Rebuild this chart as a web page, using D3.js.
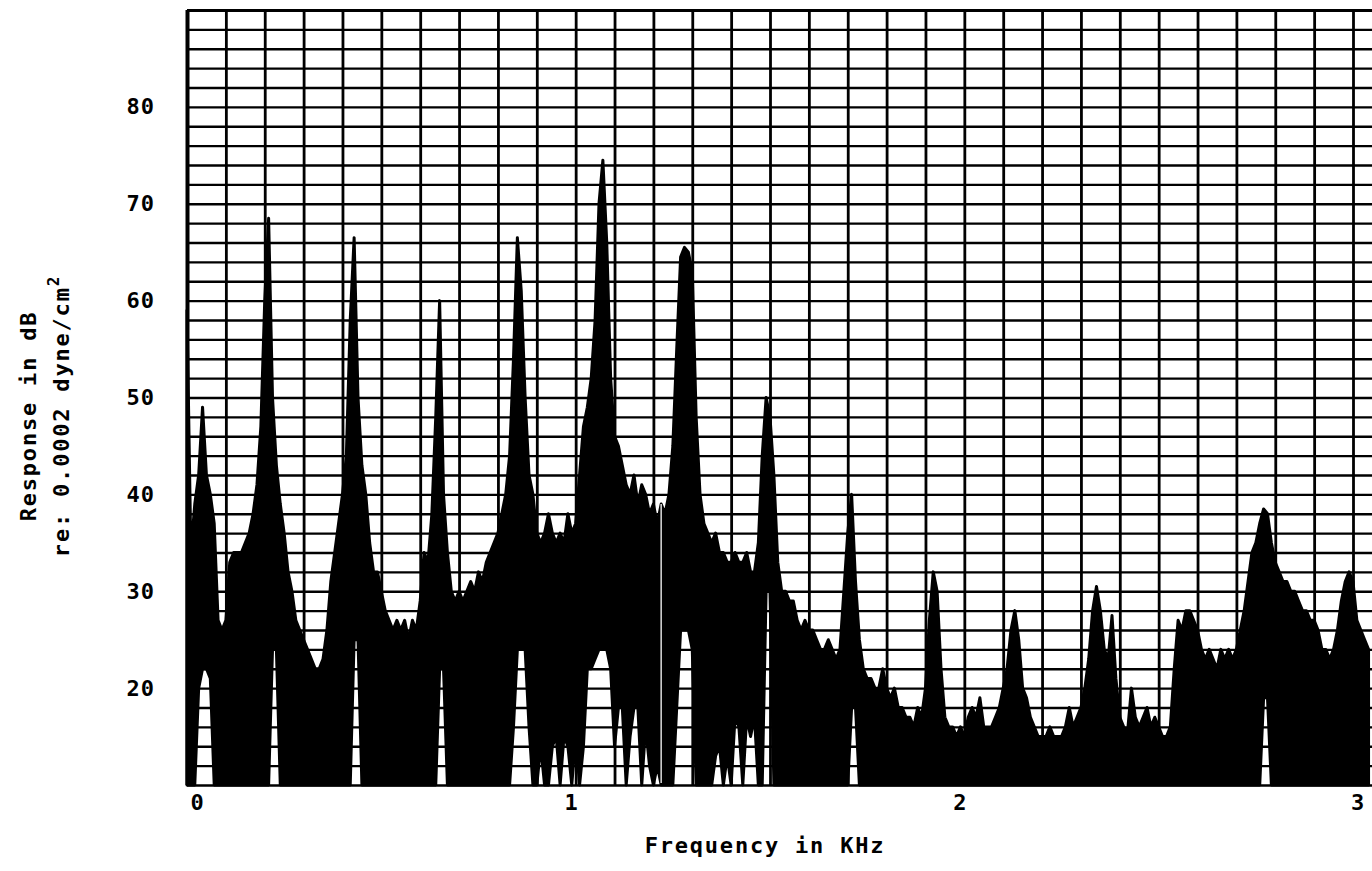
<!DOCTYPE html>
<html><head><meta charset="utf-8">
<script src="https://cdn.jsdelivr.net/npm/d3@7"></script>
<style>
body{margin:0;background:#fff}
svg{display:block}
text{font-family:"DejaVu Sans Mono","Liberation Mono",monospace;fill:#000}
</style>
</head><body>
<svg id="chart" width="1372" height="871"></svg>
<script>
// ---- data ----
const freqStep = 0.01;            // kHz between samples, first sample at 0 kHz
// upper envelope of the analyser trace (dB), one value per 0.01 kHz
const responseHigh = [
  59, 34, 39, 42, 49, 42, 40, 37, 27, 26,
  27, 33, 34, 34, 34, 35, 36, 38, 41, 47,
  60, 68.5, 50, 43, 39, 36, 32, 30, 27, 26,
  25, 24, 23, 22, 22, 23, 26, 31, 34, 37,
  40, 44, 58, 66.5, 50, 43, 40, 35, 32, 32,
  30, 28, 27, 26, 27, 26, 27, 25, 27, 26,
  29, 34, 33, 38, 48, 60, 40, 34, 30, 29,
  30, 29, 30, 31, 30, 32, 31, 33, 34, 35,
  36, 38, 40, 44, 54, 66.5, 61, 50, 42, 40,
  36, 35, 36, 38, 36, 35, 36, 35, 38, 36,
  37, 42, 47, 49, 52, 58, 70, 74.5, 66, 52,
  46, 45, 43, 41, 40, 42, 39, 41, 40, 38,
  39, 37, 39, 38, 40, 45, 55, 64.5, 65.5, 65,
  63, 48, 40, 37, 36, 35, 36, 34, 34, 33,
  33, 34, 33, 33, 34, 32, 32, 35, 44, 50,
  48, 42, 33, 30, 30, 29, 29, 27, 26, 27,
  26, 26, 25, 24, 24, 25, 24, 23, 24, 30,
  36, 40, 31, 25, 22, 21, 21, 20, 20, 22,
  20, 19, 20, 18, 18, 17, 17, 16, 18, 17,
  20, 27, 32, 30, 22, 17, 16, 16, 15, 16,
  15, 17, 18, 17, 19, 16, 16, 16, 17, 18,
  20, 22, 26, 28, 25, 20, 19, 17, 16, 15,
  15, 15, 16, 15, 15, 15, 16, 18, 16, 17,
  18, 20, 23, 28, 30.5, 28, 24, 23, 27.5, 21,
  17, 16, 15.5, 20, 17, 16, 17, 18, 16, 17,
  16, 15, 15, 16, 22, 27, 26, 28, 28, 27,
  26, 24, 23, 24, 23, 22, 24, 23, 24, 23,
  24, 26, 28, 31, 34, 35, 37, 38.5, 38, 35,
  33, 32, 31, 31, 30, 30, 29, 28, 28, 27,
  27, 26, 24, 24, 23, 24, 26, 29, 31, 32,
  31, 27, 26, 25, 24
];
// lower envelope of the trace (dB), same sampling
const responseLow = [
  10, 10, 10, 20, 22, 22, 21, 10, 10, 10,
  10, 10, 10, 10, 10, 10, 10, 10, 10, 10,
  10, 10, 24, 24, 10, 10, 10, 10, 10, 10,
  10, 10, 10, 10, 10, 10, 10, 10, 10, 10,
  10, 10, 10, 25, 25, 10, 10, 10, 10, 10,
  10, 10, 10, 10, 10, 10, 10, 10, 10, 10,
  10, 10, 10, 10, 10, 22, 22, 10, 10, 10,
  10, 10, 10, 10, 10, 10, 10, 10, 10, 10,
  10, 10, 10, 10, 16, 24, 24, 24, 16, 10,
  10, 14, 10, 10, 14, 15, 10, 15, 14, 10,
  15, 10, 14, 22, 22, 23, 24, 24, 24, 22,
  14, 18, 18, 10, 15, 18, 18, 10, 16, 12,
  10, 12, 10, 10, 10, 10, 18, 26, 26, 26,
  24, 10, 10, 10, 10, 10, 13, 14, 10, 13,
  10, 17, 16, 10, 17, 15, 17, 10, 10, 30,
  30, 10, 10, 10, 10, 10, 10, 10, 10, 10,
  10, 10, 10, 10, 10, 10, 10, 10, 10, 10,
  10, 18, 18, 10, 10, 10, 10, 10, 10, 10,
  10, 10, 10, 10, 10, 10, 10, 10, 10, 10,
  10, 10, 10, 10, 10, 10, 10, 10, 10, 10,
  10, 10, 10, 10, 10, 10, 10, 10, 10, 10,
  10, 10, 10, 10, 10, 10, 10, 10, 10, 10,
  10, 10, 10, 10, 10, 10, 10, 10, 10, 10,
  10, 10, 10, 10, 10, 10, 10, 10, 10, 10,
  10, 10, 10, 10, 10, 10, 10, 10, 10, 10,
  10, 10, 10, 10, 10, 10, 10, 10, 10, 10,
  10, 10, 10, 10, 10, 10, 10, 10, 10, 10,
  10, 10, 10, 10, 10, 10, 10, 19, 19, 10,
  10, 10, 10, 10, 10, 10, 10, 10, 10, 10,
  10, 10, 10, 10, 10, 10, 10, 10, 10, 10,
  10, 10, 10, 10, 10
];
// thin light marker line seen inside the trace
const markerFreq = 1.22;
const markerRange = [10, 39];
const yTickValues = [20, 30, 40, 50, 60, 70, 80];
const xTickValues = [0, 1, 2, 3];
const yGridStep = 2;     // dB
const xGridStep = 0.1;   // kHz
const yDomain = [10, 90];
const xDomain = [0, 3];
const yTitleLines = ["Response in dB", "re: 0.0002 dyne/cm"];
const yTitleSup = "2";
const xTitle = "Frequency in KHz";

// ---- layout ----
const W = 1372, H = 871;
const mLeft = 187, mTop = 10, mBottom = 785, xAt3 = 1353;
const svg = d3.select("#chart");

const x = d3.scaleLinear().domain(xDomain).range([mLeft, xAt3]);
const y = d3.scaleLinear().domain(yDomain).range([mBottom, mTop]);

const data = responseHigh.map((h, i) => ({f: i * freqStep, hi: h, lo: responseLow[i]}));

// grid (horizontal every 2 dB, vertical every 0.1 kHz)
const hVals = d3.range((yDomain[1] - yDomain[0]) / yGridStep + 1).map(i => yDomain[0] + i * yGridStep);
const vVals = d3.range(Math.round((xDomain[1] - xDomain[0]) / xGridStep) + 1).map(i => +(i * xGridStep).toFixed(2));

const gy = svg.append("g").attr("transform", `translate(${mLeft},0)`)
  .call(d3.axisLeft(y).tickValues(hVals).tickSize(-(W - mLeft)).tickFormat(""));
gy.select(".domain").remove();
gy.selectAll(".tick line").attr("stroke", "#000")
  .attr("stroke-width", d => d === yDomain[1] ? 3 : 2.4);

const gx = svg.append("g").attr("transform", `translate(0,${mBottom})`)
  .call(d3.axisBottom(x).tickValues(vVals).tickSize(-(mBottom - mTop)).tickFormat(""));
gx.select(".domain").remove();
gx.selectAll(".tick line").attr("stroke", "#000")
  .attr("stroke-width", d => d === 0 ? 4 : 2.8);

// trace
const area = d3.area()
  .x(d => x(d.f))
  .y0(d => y(d.lo))
  .y1(d => y(d.hi))
  .curve(d3.curveLinear);
svg.append("path").datum(data)
  .attr("d", area)
  .attr("fill", "#000")
  .attr("stroke", "#000")
  .attr("stroke-width", 3)
  .attr("stroke-linejoin", "round");

// marker line
svg.append("line")
  .attr("x1", x(markerFreq)).attr("x2", x(markerFreq))
  .attr("y1", y(markerRange[0]) - 2).attr("y2", y(markerRange[1]))
  .attr("stroke", "#cfcfcf").attr("stroke-width", 1.6);

// y tick labels
const yl = svg.append("g").attr("transform", `translate(${mLeft},0)`)
  .call(d3.axisLeft(y).tickValues(yTickValues).tickSize(0).tickPadding(32).tickFormat(d3.format("d")));
yl.select(".domain").remove();
yl.selectAll("text").attr("font-size", 22).attr("font-weight", "bold")
  .style("font-family", '"DejaVu Sans Mono",monospace').attr("letter-spacing", 1);

// x tick labels
const nX = xTickValues.length;
const xl = svg.append("g").attr("transform", `translate(0,${mBottom})`)
  .call(d3.axisBottom(x).tickValues(xTickValues).tickSize(0).tickPadding(9).tickFormat(d3.format("d")));
xl.select(".domain").remove();
xl.selectAll("text").attr("font-size", 22).attr("font-weight", "bold")
  .style("font-family", '"DejaVu Sans Mono",monospace')
  .attr("text-anchor", (d, i) => i === 0 ? "start" : "middle")
  .attr("dx", (d, i) => i === 0 ? 3 : (i === nX - 1 ? 4 : -5));

// y title
const yt = svg.append("g").attr("transform", "translate(36,416) rotate(-90)");
yt.append("text").attr("x", 0).attr("y", 0).attr("text-anchor", "middle")
  .attr("font-size", 22).attr("font-weight", "bold").attr("letter-spacing", 1.8)
  .text(yTitleLines[0]);
const t2 = yt.append("text").attr("x", 0).attr("y", 33).attr("text-anchor", "middle")
  .attr("font-size", 22).attr("font-weight", "bold").attr("letter-spacing", 1.8);
t2.append("tspan").text(yTitleLines[1]);
t2.append("tspan").attr("font-size", 16).attr("dy", -10).text(yTitleSup);

// x title
svg.append("text").attr("x", 765).attr("y", 853).attr("text-anchor", "middle")
  .attr("font-size", 22).attr("font-weight", "bold").attr("letter-spacing", 1.8)
  .text(xTitle);
</script>
</body></html>
